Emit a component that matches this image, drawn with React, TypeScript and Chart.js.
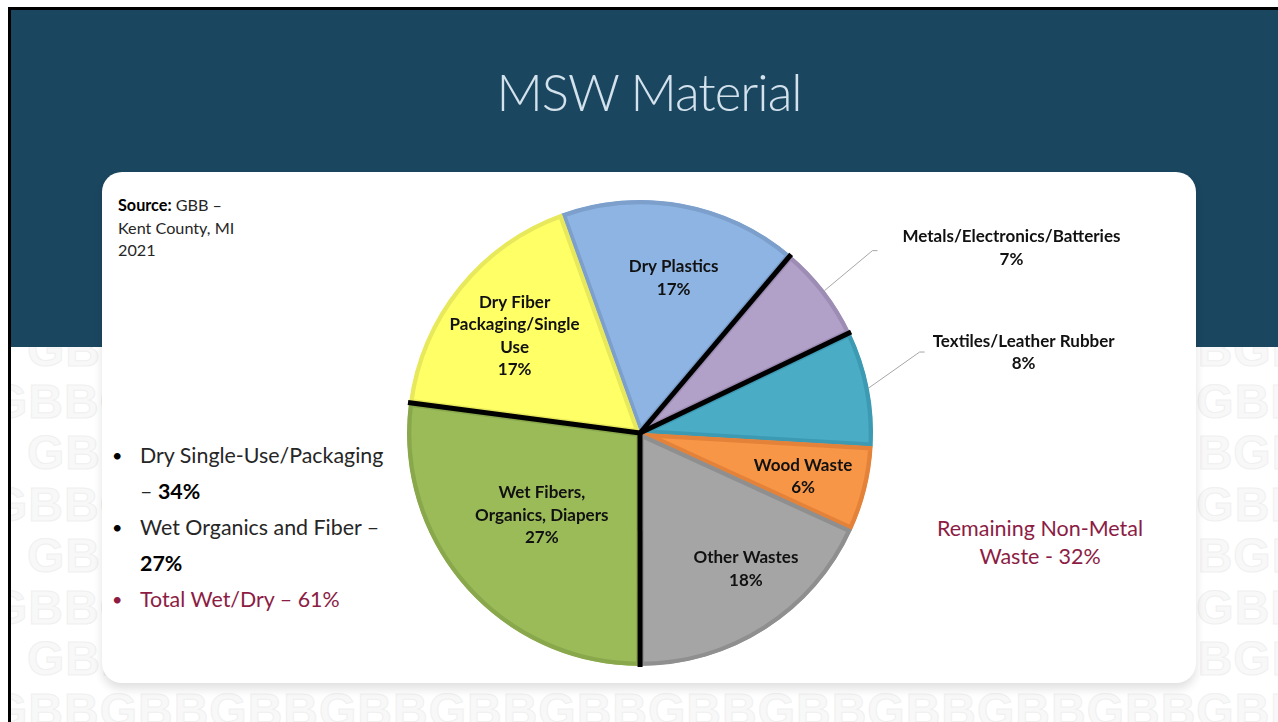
import React, { useEffect, useRef } from "react";
import { Chart, registerables } from "chart.js";

Chart.register(...registerables);

// ---- Data ----
const categories = [
  "Dry Plastics",
  "Metals/Electronics/Batteries",
  "Textiles/Leather Rubber",
  "Wood Waste",
  "Other Wastes",
  "Wet Fibers, Organics, Diapers",
  "Dry Fiber Packaging/Single Use",
];
const shares = [16.6, 6.7, 8.0, 5.9, 18.1, 27.0, 17.4];
const labelLines = [
  ["Dry Plastics"],
  ["Metals/Electronics/Batteries"],
  ["Textiles/Leather Rubber"],
  ["Wood Waste"],
  ["Other Wastes"],
  ["Wet Fibers,", "Organics, Diapers"],
  ["Dry Fiber", "Packaging/Single", "Use"],
];
const groupStarts = [false, true, true, false, false, true, true];
const fillColors = ["#8DB4E2", "#B1A0C7", "#4BACC6", "#F79646", "#A5A5A5", "#9BBB59", "#FFFF66"];
const edgeColors = ["#7C9FCC", "#9D8CB4", "#3D9AB3", "#E4823A", "#8F8F8F", "#89A84B", "#E8E85C"];

// label placement (layout only): radial fraction and angular nudge in degrees
const insideFrac = [0.68, 0, 0, 0.724, 0.74, 0.55, 0.68];
const insideNudge = [2, 0, 0, 0.9, -5.2, 1.3, -1.2];
const outside = [null, { ex: 48, ey: -40, tx: 139, ty: -2.5 }, { ex: 51, ey: -36, tx: 104, ty: 0.5 }, null, null, null, null];

const FONT = "Lato, 'Open Sans', sans-serif";

const labelPlugin = {
  id: "sliceLabels",
  afterDatasetsDraw(chart: any) {
    const ctx = chart.ctx as CanvasRenderingContext2D;
    const meta = chart.getDatasetMeta(0);
    const arcs = meta.data as any[];
    ctx.save();
    // group separators
    arcs.forEach((arc, i) => {
      if (!groupStarts[i]) return;
      const a = arc.startAngle;
      ctx.beginPath();
      ctx.strokeStyle = "#000";
      ctx.lineWidth = 5;
      ctx.lineCap = "butt";
      ctx.moveTo(arc.x, arc.y);
      ctx.lineTo(arc.x + Math.cos(a) * (arc.outerRadius + 1), arc.y + Math.sin(a) * (arc.outerRadius + 1));
      ctx.stroke();
    });
    ctx.font = `bold 17px ${FONT}`;
    ctx.fillStyle = "#111";
    ctx.textAlign = "center";
    ctx.textBaseline = "middle";
    const lh = 22.5;
    arcs.forEach((arc, i) => {
      const mid = (arc.startAngle + arc.endAngle) / 2;
      const lines = [...labelLines[i], Math.round(shares[i]) + "%"];
      let cx: number, cy: number;
      const o = outside[i];
      if (o) {
        const ax = arc.x + Math.cos(mid) * arc.outerRadius;
        const ay = arc.y + Math.sin(mid) * arc.outerRadius;
        const exx = ax + o.ex;
        const eyy = ay + o.ey;
        ctx.beginPath();
        ctx.strokeStyle = "#A6A6A6";
        ctx.lineWidth = 1;
        ctx.moveTo(ax, ay);
        ctx.lineTo(exx, eyy);
        ctx.lineTo(exx + 5, eyy);
        ctx.stroke();
        cx = exx + o.tx;
        cy = eyy + o.ty;
      } else {
        const r = arc.outerRadius * insideFrac[i];
        const a = mid + (insideNudge[i] * Math.PI) / 180;
        cx = arc.x + Math.cos(a) * r;
        cy = arc.y + Math.sin(a) * r;
      }
      const top = cy - ((lines.length - 1) * lh) / 2;
      lines.forEach((t, k) => ctx.fillText(t, cx, top + k * lh));
    });
    ctx.restore();
  },
};

function Watermark() {
  const rows = [];
  for (let r = 0; r < 8; r++) {
    rows.push(
      <div
        key={r}
        style={{
          position: "absolute",
          left: r % 2 === 0 ? 16 : -21,
          top: 322 + r * 51.5,
          whiteSpace: "nowrap",
          fontFamily: "'Liberation Sans', Arial, sans-serif",
          fontWeight: 700,
          fontSize: 48,
          letterSpacing: 1,
          color: "#F8F8F8",
          WebkitTextStroke: "1px #F0F0F0",
        }}
      >
        {"GBB".repeat(13)}
      </div>
    );
  }
  return (
    <div style={{ position: "absolute", left: 11, top: 347, width: 1267, height: 375, overflow: "hidden" }}>
      <div style={{ position: "absolute", left: 0, top: -347 }}>{rows}</div>
    </div>
  );
}

export default function App() {
  const ref = useRef<HTMLCanvasElement>(null);
  useEffect(() => {
    const chart = new Chart(ref.current!, {
      type: "pie",
      data: {
        labels: categories,
        datasets: [
          {
            data: shares,
            backgroundColor: fillColors,
            borderColor: edgeColors,
            borderWidth: 4,
            borderAlign: "inner",
            radius: 233,
          } as any,
        ],
      },
      options: {
        animation: false,
        responsive: false,
        rotation: -19.7,
        layout: { padding: 0 },
        plugins: { legend: { display: false }, tooltip: { enabled: false } },
      },
      plugins: [labelPlugin],
    });
    return () => chart.destroy();
  }, []);

  const text: React.CSSProperties = { position: "absolute", fontFamily: FONT, color: "#262626" };
  const maroon = "#8C1C44";

  return (
    <div style={{ position: "absolute", left: 0, top: 0, width: 1278, height: 722, background: "#fff", overflow: "hidden" }}>
      <Watermark />
      <div style={{ position: "absolute", left: 11, top: 10, width: 1267, height: 337, background: "#1B4660" }} />
      <div style={{ position: "absolute", left: 8, top: 7, width: 1270, height: 3, background: "#000" }} />
      <div style={{ position: "absolute", left: 8, top: 7, width: 3, height: 715, background: "#000" }} />
      <div
        style={{
          position: "absolute",
          left: 0,
          width: 1298,
          top: 62,
          textAlign: "center",
          fontFamily: FONT,
          fontWeight: 300,
          fontSize: 51,
          lineHeight: "60px",
          color: "#D3E2EC",
          letterSpacing: -1,
        }}
      >
        MSW Material
      </div>
      <div
        style={{
          position: "absolute",
          left: 102,
          top: 172,
          width: 1094,
          height: 511,
          background: "#fff",
          borderRadius: 20,
          boxShadow: "0 6px 10px rgba(0,0,0,0.12)",
        }}
      />
      <div style={{ ...text, left: 118, top: 194, fontSize: 16.2, lineHeight: "22.5px" }}>
        <b style={{ color: "#000" }}>Source:</b> GBB –<br />
        Kent County, MI
        <br />
        2021
      </div>
      <div style={{ ...text, left: 112, top: 437, fontSize: 21.4, lineHeight: "36px" }}>
        <div style={{ position: "relative", paddingLeft: 28 }}>
          <span style={{ position: "absolute", left: 0, color: "#000", fontSize: 18 }}>•</span>
          Dry Single-Use/Packaging
          <br />– <b style={{ color: "#000" }}>34%</b>
        </div>
        <div style={{ position: "relative", paddingLeft: 28 }}>
          <span style={{ position: "absolute", left: 0, color: "#000", fontSize: 18 }}>•</span>
          Wet Organics and Fiber –<br />
          <b style={{ color: "#000" }}>27%</b>
        </div>
        <div style={{ position: "relative", paddingLeft: 28, color: maroon }}>
          <span style={{ position: "absolute", left: 0, fontSize: 18 }}>•</span>
          Total Wet/Dry – 61%
        </div>
      </div>
      <div
        style={{
          ...text,
          left: 920,
          width: 240,
          top: 514,
          fontSize: 21.5,
          lineHeight: "28px",
          textAlign: "center",
          color: maroon,
        }}
      >
        Remaining Non-Metal
        <br />
        Waste - 32%
      </div>
      <canvas
        ref={ref}
        width={1076}
        height={522}
        style={{ position: "absolute", left: 102, top: 172, width: 1076, height: 522 }}
      />
    </div>
  );
}
